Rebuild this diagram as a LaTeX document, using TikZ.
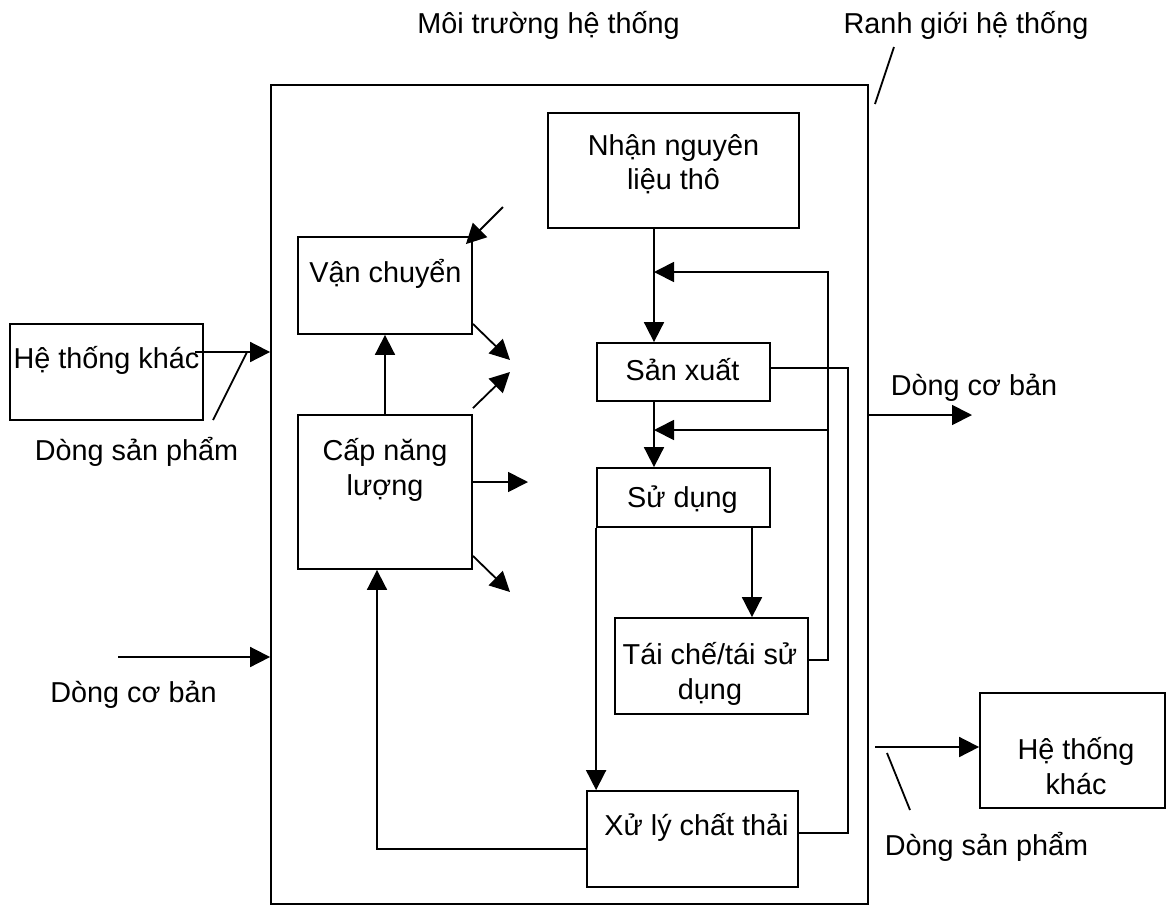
\documentclass[tikz,border=0pt]{standalone}
\usepackage{fontspec}
\setmainfont{Liberation Sans}
\usetikzlibrary{arrows.meta}

\begin{document}
\begin{tikzpicture}[x=1pt,y=-1pt,line width=1.8pt,
    font=\fontsize{28.8}{34.5}\selectfont,
    hop/.style={draw,rectangle,inner sep=0pt},
    chu/.style={anchor=base,inner sep=0pt},
    chu2/.style={align=center,inner sep=0pt},
    mui/.style={-{Triangle[length=20pt,width=20pt]}}]
  \useasboundingbox (0,0) rectangle (1167,906);

  % ranh gioi he thong
  \node[hop,minimum width=597pt,minimum height=819pt] (sys) at (569.5,494.5) {};
  \node[chu] (moitruong) at (548.5,33) {Môi trường hệ thống};
  \node[chu] (ranhgioi) at (966,33) {Ranh giới hệ thống};

  % cac khoi
  \node[hop,minimum width=193pt,minimum height=96pt] (htkL) at (106.5,372) {};
  \node[hop,minimum width=185pt,minimum height=115pt] (htkR) at (1072.5,750.5) {};
  \node[hop,minimum width=251pt,minimum height=115pt] (nhan) at (673.5,170.5) {};
  \node[hop,minimum width=174pt,minimum height=97pt] (van) at (385,285.5) {};
  \node[hop,minimum width=174pt,minimum height=154pt] (cap) at (385,492) {};
  \node[hop,minimum width=173pt,minimum height=58pt] (sx) at (683.5,372) {};
  \node[hop,minimum width=173pt,minimum height=59pt] (sd) at (683.5,497.5) {};
  \node[hop,minimum width=193pt,minimum height=96pt] (tc) at (711.5,666) {};
  \node[hop,minimum width=211pt,minimum height=96pt] (xl) at (692.5,839) {};

  % chu trong khoi
  \node[chu] (htkLt) at (106.5,368) {Hệ thống khác};
  \node[chu2] (htkRt) at (1076,766) {Hệ thống\\khác};
  \node[chu2] (nhant) at (673.5,164) {Nhận nguyên\\liệu thô};
  \node[chu] (vant) at (385.5,282) {Vận chuyển};
  \node[chu2] (capt) at (385,470) {Cấp năng\\lượng};
  \node[chu] (sxt) at (682.5,380) {Sản xuất};
  \node[chu] (sdt) at (682.5,507) {Sử dụng};
  \node[chu2] (tct) at (710,674) {Tái chế/tái sử\\dụng};
  \node[chu] (xlt) at (696.5,835) {Xử lý chất thải};

  % nhan dong
  \node[chu] (dspL) at (136.5,460) {Dòng sản phẩm};
  \node[chu] (dcbL) at (133.5,702) {Dòng cơ bản};
  \node[chu] (dcbR) at (974,395) {Dòng cơ bản};
  \node[chu] (dspR) at (986.5,855) {Dòng sản phẩm};

  % dong vao / ra
  \coordinate (pL) at (195,352);
  \coordinate (qL) at (118,657);
  \coordinate (qR) at (972,415);
  \coordinate (pR) at (875,747);
  \draw[mui] (pL) -- (pL -| sys.west);
  \draw[mui] (qL) -- (qL -| sys.west);
  \draw[mui] (qR -| sys.east) -- (qR);
  \draw[mui] (pR) -- (pR -| htkR.west);
  \draw (247,352) coordinate (k1) -- (213,420) coordinate (k2);
  \draw (887,753) coordinate (k3) -- (910,810) coordinate (k4);
  \draw (894,47) coordinate (k5) -- (875,104) coordinate (k6);

  % dong ben trong
  \coordinate (j1) at (654,272);
  \coordinate (j2) at (654,430);
  \coordinate (j3) at (752,527);
  \coordinate (fb) at (828,272);
  \coordinate (rr) at (848,368);
  \coordinate (rb) at (848,833);
  \coordinate (lb) at (377,849);
  \draw[mui] (nhan.south -| j1) -- (sx.north -| j1);
  \draw[mui] (sx.south -| j2) -- (sd.north -| j2);
  \draw[mui] ([yshift=6pt]tc.east) -| (fb) -- (j1);
  \draw[mui] (fb |- j2) -- (j2);
  \draw (sx.east |- rr) -- (rr) -- (rb) -- (xl.east |- rb);
  \draw[mui] (sd.south -| j3) -- (tc.north -| j3);
  \draw[mui] (sd.south west) -- (sd.south west |- xl.north);
  \draw[mui] (xl.west |- lb) -- (lb) -- (cap.south -| lb);
  \draw[mui] (cap.north) -- (van.south);

  % mui ten nho quanh van chuyen / cap nang luong
  \coordinate (s1) at (503,207);
  \coordinate (e1) at ([shift={(-7,8)}]van.north east);
  \coordinate (s2) at ([shift={(0,-11)}]van.south east);
  \coordinate (e2) at (510,360);
  \coordinate (s3) at ([shift={(0,-6)}]cap.north east);
  \coordinate (e3) at (510,372);
  \coordinate (s4) at ([shift={(0,-10)}]cap.east);
  \coordinate (e4) at (528,482);
  \coordinate (s5) at ([shift={(0,-14)}]cap.south east);
  \coordinate (e5) at (510,592);
  \foreach \i in {1,...,5}
    \draw[mui] (s\i) -- (e\i);
\end{tikzpicture}
\end{document}
